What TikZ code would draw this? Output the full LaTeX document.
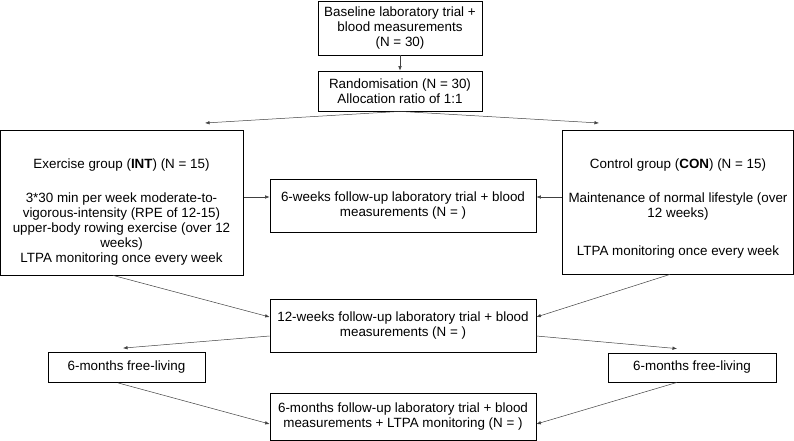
\documentclass[tikz,border=0pt]{standalone}
\usepackage{fontspec}
\setmainfont{Liberation Sans}
\usetikzlibrary{arrows.meta}
\begin{document}
\begin{tikzpicture}[x=1pt,y=-1pt,
  fnt/.style={font=\fontsize{13.4}{15.2}\selectfont},
  box/.style={draw, line width=0.8pt, inner sep=0pt, align=center, fnt},
  txt/.style={inner sep=0pt, align=center, fnt},
  arr/.style={-{Latex[length=4.5pt,width=3.5pt]}, line width=0.5pt, draw=black!75}]
\useasboundingbox (0,0) rectangle (794,441);
% boxes
\node[box, minimum width=164pt, minimum height=54pt] (base) at (400,28)
  {Baseline laboratory trial +\\ blood measurements\\ (N = 30)};
\node[box, minimum width=164pt, minimum height=40pt] (rand) at (400,91)
  {Randomisation (N = 30)\\ Allocation ratio of 1:1};
\node[box, minimum width=242.5pt, minimum height=145pt] (int) at (122,202.5) {};
\node[txt, anchor=north] (intt) at (121.5,158.2)
  {Exercise group (\textbf{INT}) (N = 15)\\[18.8pt]
   3*30 min per week moderate-to-\\
   vigorous-intensity (RPE of 12-15)\\
   upper-body rowing exercise (over 12\\
   weeks)\\
   LTPA monitoring once every week};
\node[box, minimum width=266pt, minimum height=53pt] (six) at (403,205.5)
  {6-weeks follow-up laboratory trial + blood\\ measurements (N = )};
\node[box, minimum width=231pt, minimum height=144pt] (con) at (678,202) {};
\node[txt, anchor=north] (cont) at (678,158.2)
  {Control group (\textbf{CON}) (N = 15)\\[18.8pt]
   Maintenance of normal lifestyle (over\\
   12 weeks)\\[22.8pt]
   LTPA monitoring once every week};
\node[box, minimum width=266pt, minimum height=53pt] (twelve) at (403,325.5)
  {12-weeks follow-up laboratory trial + blood\\ measurements (N = )};
\node[box, minimum width=157pt, minimum height=30pt] (flL) at (126.5,367.5)
  {6-months free-living};
\node[box, minimum width=168pt, minimum height=29pt] (flR) at (692,367.5)
  {6-months free-living};
\node[box, minimum width=266pt, minimum height=47pt] (sixm) at (403,416.5)
  {6-months follow-up laboratory trial + blood\\ measurements + LTPA monitoring (N = )};
% free ends
\coordinate (splitL) at (205,123);
\coordinate (splitR) at (599,123);
% connectors
\draw[arr] (base.south) -- (rand.north);
\draw[arr] (rand.south) -- (splitL);
\draw[arr] (rand.south) -- (splitR);
\draw[arr] (int.east |- 0,197) -- (six.west |- 0,197);
\draw[arr] (con.west |- 0,197) -- (six.east |- 0,197);
\draw[arr] (int.south -| 113,0) -- (twelve.west |- 0,317);
\draw[arr] (con.south -| 670,0) -- (twelve.east |- 0,317);
\draw[arr] (twelve.west |- 0,336) -- ([yshift=4pt]flL.north -| 123,0);
\draw[arr] (twelve.east |- 0,336) -- ([yshift=4pt]flR.north -| 677,0);
\draw[arr] (flL.south -| 118,0) -- (sixm.west |- 0,424);
\draw[arr] (flR.south -| 677,0) -- (sixm.east |- 0,424);
\end{tikzpicture}
\end{document}
